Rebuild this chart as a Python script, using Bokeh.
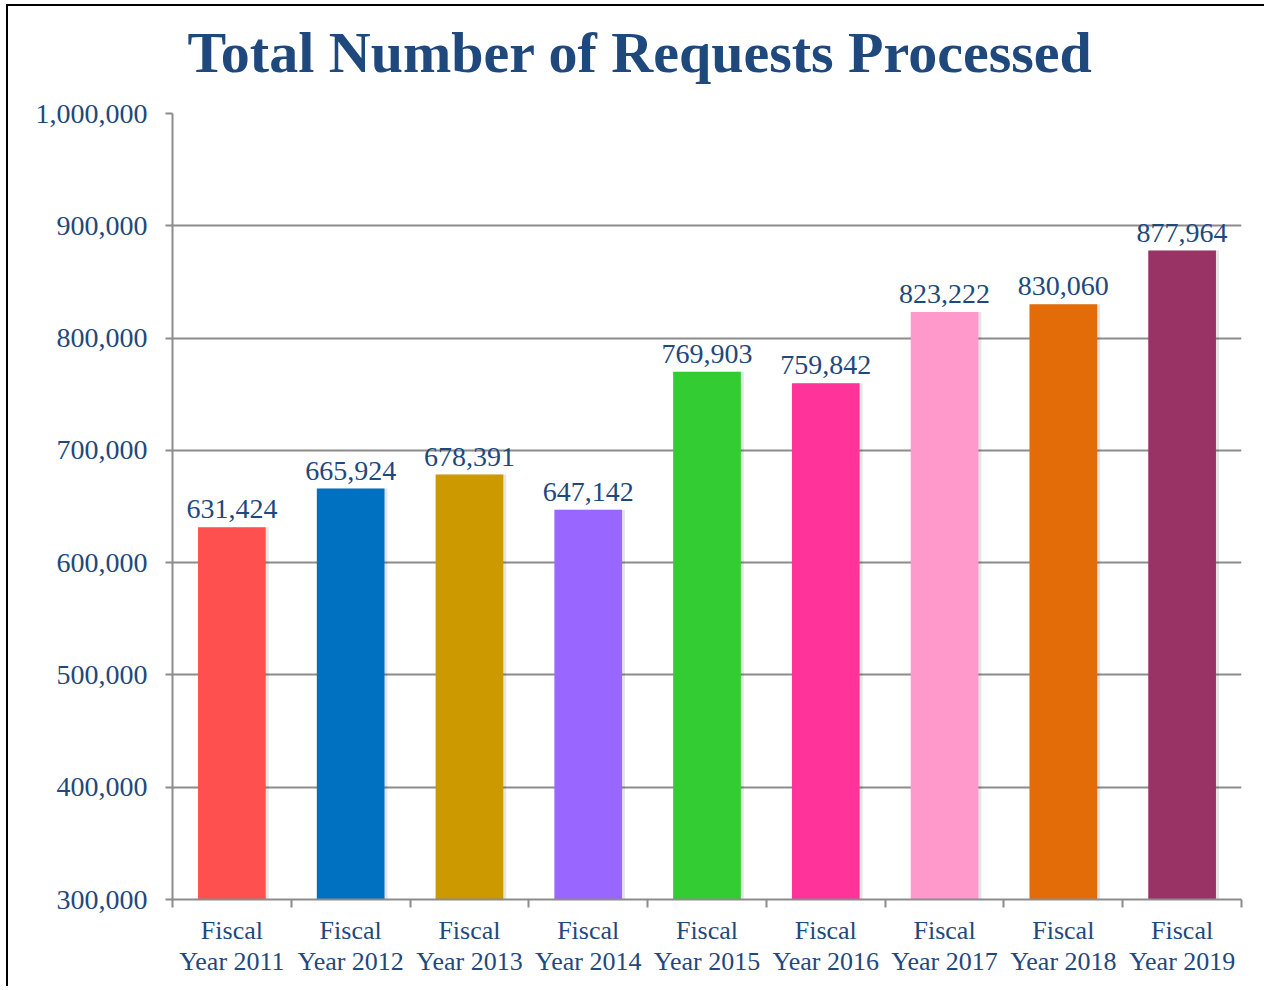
from bokeh.plotting import figure
from bokeh.models import (FactorRange, Range1d, LinearAxis, CategoricalAxis, FixedTicker,
                          NumeralTickFormatter, Title, ColumnDataSource, Grid)
from bokeh.transform import dodge
from bokeh.core.properties import value
from bokeh.embed import file_html
from bokeh.resources import INLINE

# ---- data ----
years = ["2011", "2012", "2013", "2014", "2015", "2016", "2017", "2018", "2019"]
categories = [f"Fiscal\nYear {y}" for y in years]
requests = [631424, 665924, 678391, 647142, 769903, 759842, 823222, 830060, 877964]
bar_colors = ["#FF5050", "#0070C0", "#CC9900", "#9966FF", "#33CC33",
              "#FF3399", "#FF99CC", "#E36C09", "#993366"]
y_ticks = [300000, 400000, 500000, 600000, 700000, 800000, 900000, 1000000]
title_text = "Total Number of Requests Processed"

FONT = "Liberation Serif"
TXT = "#1F497D"
GRAY = "#8C8C8C"

W, H = 1258, 982
p = figure(width=W, height=H,
           x_range=FactorRange(*categories),
           y_range=Range1d(y_ticks[0], y_ticks[-1]),
           output_backend="svg", toolbar_location=None,
           x_axis_location=None, y_axis_location=None,
           min_border_left=164, min_border_right=25,
           min_border_top=107, min_border_bottom=89)
p.styles = {"margin-top": "4px", "margin-left": "6px",
            "border-top": "2px solid black", "border-left": "2px solid black"}
p.outline_line_color = None
p.xgrid.visible = False
p.ygrid.visible = False

src = ColumnDataSource(dict(cat=categories, val=requests, color=bar_colors,
                            lbl=[f"{v:,}" for v in requests]))

# invisible spacer between frame and title (undrawn axis whose tick length sets its size)
spacer = LinearAxis(ticker=FixedTicker(ticks=[0]), axis_line_color=None,
                    major_tick_line_color=None, minor_tick_line_color=None,
                    major_tick_in=0, major_tick_out=29,
                    major_label_text_font_size="1px", major_label_text_color=None,
                    major_label_standoff=0)
p.add_layout(spacer, "above")

# title
p.add_layout(Title(text=title_text, align="left", offset=15, standoff=0,
                   vertical_align="bottom",
                   text_font=FONT, text_font_style="bold", text_font_size="58px",
                   text_color=TXT), "above")

# y axis
yax = LinearAxis(ticker=FixedTicker(ticks=y_ticks),
                 formatter=NumeralTickFormatter(format="0,0"),
                 axis_line_color=GRAY, axis_line_width=2,
                 major_tick_line_color=GRAY, major_tick_line_width=2,
                 major_tick_in=0, major_tick_out=7,
                 minor_tick_line_color=None,
                 major_label_text_font=FONT, major_label_text_font_size="28px",
                 major_label_text_color=TXT, major_label_standoff=18)
p.add_layout(yax, "left")
p.add_layout(Grid(dimension=1, ticker=FixedTicker(ticks=y_ticks),
                  grid_line_color=GRAY, grid_line_width=2))

# x axis: ticks at category boundaries (synthetic coordinates of the factor range)
tax = LinearAxis(ticker=FixedTicker(ticks=list(range(len(categories) + 1))),
                 axis_line_color=GRAY, axis_line_width=2,
                 major_tick_line_color=GRAY, major_tick_line_width=2,
                 major_tick_in=0, major_tick_out=8,
                 minor_tick_line_color=None,
                 major_label_text_font_size="1px", major_label_text_color=None,
                 major_label_standoff=0)
p.add_layout(tax, "below")
# x axis: category labels
cax = CategoricalAxis(axis_line_color=None, major_tick_line_color=None,
                      major_tick_in=0, major_tick_out=0,
                      major_label_text_font=FONT, major_label_text_font_size="26px",
                      major_label_text_color=TXT, major_label_standoff=8,
                      major_label_text_line_height=1.1)
p.add_layout(cax, "below")

# bars with soft shadow
p.vbar(x=dodge("cat", 0.025, range=p.x_range), top="val", bottom=y_ticks[0], width=0.57,
       source=src, fill_color="black", fill_alpha=0.10, line_color=None)
p.vbar(x="cat", top="val", bottom=y_ticks[0], width=0.57, source=src,
       fill_color="color", line_color=None)

# value labels
p.text(x="cat", y="val", text="lbl", source=src, text_align="center",
       text_baseline="alphabetic", y_offset=-18, text_font=value(FONT),
       text_font_size="28px", text_color=TXT)

open("out.html", "w").write(file_html(p, INLINE))
